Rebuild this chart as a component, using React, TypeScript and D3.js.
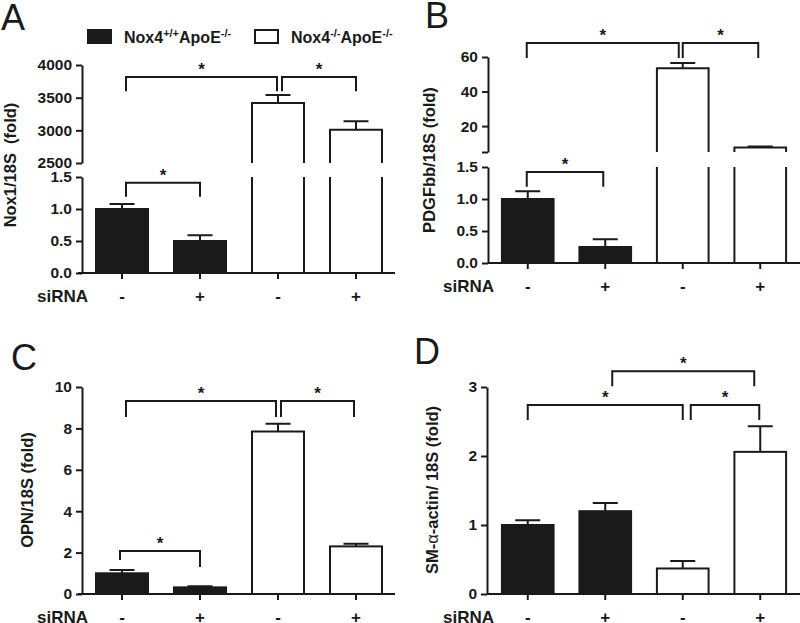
import { useEffect, useRef } from "react"
import * as d3 from "d3"

// four groups: Nox4+/+ApoE-/- (siRNA -, +) and Nox4-/-ApoE-/- (siRNA -, +)
const siRNA = ["-", "+", "-", "+"]
const genotype = ["wt", "wt", "ko", "ko"]
const legendNames = [
  ["Nox4", "+/+", "ApoE", "-/-"],
  ["Nox4", "-/-", "ApoE", "-/-"],
]

const nox1Mean = [1.0, 0.5, 3420, 3010]
const nox1Sem = [0.08, 0.09, 120, 130]
const nox1TicksLow = [0, 0.5, 1.0, 1.5]
const nox1TicksHigh = [2500, 3000, 3500, 4000]

const pdgfMean = [1.0, 0.25, 53.5, 7.6]
const pdgfSem = [0.12, 0.12, 3.0, 0.6]
const pdgfTicksLow = [0, 0.5, 1.0, 1.5]
const pdgfTicksHigh = [20, 40, 60]

const opnMean = [1.0, 0.32, 7.85, 2.3]
const opnSem = [0.16, 0.06, 0.37, 0.13]
const opnTicks = [0, 2, 4, 6, 8, 10]

const smaMean = [1.0, 1.2, 0.37, 2.06]
const smaSem = [0.07, 0.12, 0.11, 0.37]
const smaTicks = [0, 1, 2, 3]

const FONT = "'Liberation Sans', Arial, Helvetica, sans-serif"
const INK = "#1a1a1a"

type Segment = {
  domain: [number, number]
  range: [number, number]
  ticks: number[]
  format: string
  breakTick?: boolean
}

type Bracket = {
  from: number
  to: number
  seg?: "low" | "high"
  top: number
  legFrom: number
  legTo: number
  dFrom: number
  dTo: number
}

type Panel = {
  letter: string
  letterX: number
  letterY: number
  label: { text: string; alpha?: boolean }[]
  labelX: number
  labelY: number
  mean: number[]
  sem: number[]
  low: Segment
  high?: Segment
  axisX: number
  xRange: [number, number]
  xLineFrom: number
  xLineTo: number
  siRNAX: number
  brackets: Bracket[]
}

const panels: Panel[] = [
  {
    letter: "A", letterX: 1, letterY: 30,
    label: [{ text: "Nox1/18S\u00a0 (fold)" }], labelX: 16, labelY: 165,
    mean: nox1Mean, sem: nox1Sem,
    low: { domain: [0, 1.5], range: [273, 177], ticks: nox1TicksLow, format: ".1f" },
    high: { domain: [2500, 4000], range: [163, 65], ticks: nox1TicksHigh, format: "d" },
    axisX: 82, xRange: [83, 395], xLineFrom: 78, xLineTo: 395, siRNAX: 37,
    brackets: [
      { from: 0, to: 2, seg: "high", top: 3815, legFrom: 3600, legTo: 3600, dFrom: 4, dTo: -1 },
      { from: 2, to: 3, seg: "high", top: 3815, legFrom: 3600, legTo: 3600, dFrom: 4, dTo: 0 },
      { from: 0, to: 1, seg: "low", top: 1.41, legFrom: 1.19, legTo: 1.19, dFrom: 4, dTo: 0 },
    ],
  },
  {
    letter: "B", letterX: 425, letterY: 28,
    label: [{ text: "PDGFbb/18S (fold)" }], labelX: 435, labelY: 160,
    mean: pdgfMean, sem: pdgfSem,
    low: { domain: [0, 1.5], range: [263, 167], ticks: pdgfTicksLow, format: ".1f" },
    high: { domain: [5, 60], range: [152, 57], ticks: pdgfTicksHigh, format: "d", breakTick: true },
    axisX: 488, xRange: [489, 799], xLineFrom: 488, xLineTo: 800, siRNAX: 443,
    brackets: [
      { from: 0, to: 2, seg: "high", top: 68.1, legFrom: 59.4, legTo: 59.4, dFrom: -1, dTo: -4 },
      { from: 2, to: 3, seg: "high", top: 68.1, legFrom: 59.4, legTo: 59.4, dFrom: 0, dTo: -2 },
      { from: 0, to: 1, seg: "low", top: 1.42, legFrom: 1.19, legTo: 1.19, dFrom: -1, dTo: -2 },
    ],
  },
  {
    letter: "C", letterX: 11, letterY: 370,
    label: [{ text: "OPN/18S (fold)" }], labelX: 33, labelY: 490,
    mean: opnMean, sem: opnSem,
    low: { domain: [0, 10], range: [594, 387], ticks: opnTicks, format: "d" },
    axisX: 82, xRange: [83, 395], xLineFrom: 78, xLineTo: 395, siRNAX: 37,
    brackets: [
      { from: 0, to: 2, top: 9.32, legFrom: 8.55, legTo: 8.55, dFrom: 4, dTo: -2 },
      { from: 2, to: 3, top: 9.32, legFrom: 8.55, legTo: 8.55, dFrom: 3, dTo: -2 },
      { from: 0, to: 1, top: 2.08, legFrom: 1.64, legTo: 1.3, dFrom: -2, dTo: 0 },
    ],
  },
  {
    letter: "D", letterX: 414, letterY: 364,
    label: [{ text: "SM-" }, { text: "\u03b1", alpha: true }, { text: "-actin/ 18S (fold)" }],
    labelX: 438, labelY: 490,
    mean: smaMean, sem: smaSem,
    low: { domain: [0, 3], range: [594, 387], ticks: smaTicks, format: "d" },
    axisX: 487, xRange: [489, 799], xLineFrom: 487, xLineTo: 800, siRNAX: 443,
    brackets: [
      { from: 1, to: 3, top: 3.23, legFrom: 3.01, legTo: 3.01, dFrom: 7, dTo: -6 },
      { from: 0, to: 2, top: 2.74, legFrom: 2.52, legTo: 2.52, dFrom: 0, dTo: 0 },
      { from: 2, to: 3, top: 2.74, legFrom: 2.52, legTo: 2.52, dFrom: 8, dTo: -1 },
    ],
  },
]

function styleAxis(g: d3.Selection<SVGGElement, unknown, null, undefined>, size: number) {
  g.attr("font-family", FONT).attr("font-size", size).attr("font-weight", "bold")
  g.select(".domain").attr("stroke", INK).attr("stroke-width", 2)
  g.selectAll(".tick line").attr("stroke", INK).attr("stroke-width", 2)
  g.selectAll(".tick text").attr("fill", INK)
}

function drawPanel(root: d3.Selection<SVGSVGElement, unknown, null, undefined>, p: Panel) {
  const g = root.append("g")

  const x = d3
    .scaleBand<number>()
    .domain(d3.range(4))
    .range(p.xRange)
    .paddingInner(1 / 3)
    .paddingOuter(1 / 6)
  const cx = (i: number) => (x(i) ?? 0) + x.bandwidth() / 2

  const yLow = d3.scaleLinear().domain(p.low.domain).range(p.low.range)
  const yHigh = p.high ? d3.scaleLinear().domain(p.high.domain).range(p.high.range) : null
  const lowMax = p.low.domain[1]
  const yOf = (v: number) => (yHigh && v > lowMax ? yHigh(v) : yLow(v))

  // bars
  p.mean.forEach((v, i) => {
    const x0 = x(i) ?? 0
    const x1 = x0 + x.bandwidth()
    const fill = genotype[i] === "wt" ? INK : "#ffffff"
    if (!yHigh || v <= lowMax) {
      g.append("rect")
        .attr("x", x0)
        .attr("y", yLow(v))
        .attr("width", x.bandwidth())
        .attr("height", yLow(0) - yLow(v))
        .attr("fill", fill)
        .attr("stroke", INK)
        .attr("stroke-width", 2)
    } else {
      // broken bar: open top in the lower segment, open bottom in the upper one
      const yb = yLow(0)
      const yt = yLow(lowMax)
      g.append("path")
        .attr("d", `M${x0},${yt}V${yb}H${x1}V${yt}`)
        .attr("fill", fill)
        .attr("stroke", INK)
        .attr("stroke-width", 2)
      const hb = yHigh(p.high!.domain[0])
      g.append("path")
        .attr("d", `M${x0},${hb}V${yHigh(v)}H${x1}V${hb}`)
        .attr("fill", fill)
        .attr("stroke", INK)
        .attr("stroke-width", 2)
    }
  })

  // error bars (upper only)
  p.mean.forEach((v, i) => {
    const top = yOf(v)
    const end = yOf(v + p.sem[i])
    g.append("path")
      .attr("d", `M${cx(i)},${top}V${end}M${cx(i) - 12.5},${end}H${cx(i) + 12.5}`)
      .attr("fill", "none")
      .attr("stroke", INK)
      .attr("stroke-width", 2)
  })

  // y axes
  const fmtLow = d3.format(p.low.format)
  g.append("g")
    .attr("transform", `translate(${p.axisX},0)`)
    .call(
      d3.axisLeft(yLow)
        .tickValues(p.low.ticks)
        .tickFormat((d) => fmtLow(d as number))
        .tickSize(6)
        .tickSizeOuter(0)
        .tickPadding(4)
    )
    .call((a) => styleAxis(a, 15.5))

  if (yHigh && p.high) {
    const hi = p.high
    const fmtHigh = d3.format(hi.format)
    const values = hi.breakTick ? [hi.domain[0], ...hi.ticks] : hi.ticks
    g.append("g")
      .attr("transform", `translate(${p.axisX},0)`)
      .call(
        d3.axisLeft(yHigh)
          .tickValues(values)
          .tickFormat((d) => (hi.ticks.includes(d as number) ? fmtHigh(d as number) : ""))
          .tickSize(6)
          .tickSizeOuter(0)
          .tickPadding(4)
      )
      .call((a) => styleAxis(a, 15.5))
  }

  // x axis
  const xAxisY = yLow(0)
  g.append("line")
    .attr("x1", p.xLineFrom)
    .attr("x2", p.xLineTo)
    .attr("y1", xAxisY)
    .attr("y2", xAxisY)
    .attr("stroke", INK)
    .attr("stroke-width", 2)

  g.append("g")
    .attr("transform", `translate(0,${xAxisY})`)
    .call(
      d3.axisBottom(x)
        .tickFormat((i) => siRNA[i as number])
        .tickSize(6)
        .tickSizeOuter(0)
        .tickPadding(11)
    )
    .call((a) => a.select(".domain").remove())
    .call((a) => styleAxis(a, 17))

  g.append("text")
    .attr("x", p.siRNAX)
    .attr("y", xAxisY + 29)
    .attr("font-family", FONT)
    .attr("font-size", 17)
    .attr("font-weight", "bold")
    .attr("fill", INK)
    .text("siRNA")

  // significance brackets
  p.brackets.forEach((b) => {
    const sy = (v: number) => (b.seg === "high" && yHigh ? yHigh(v) : yLow(v))
    const xa = cx(b.from) + b.dFrom
    const xb = cx(b.to) + b.dTo
    g.append("path")
      .attr("d", `M${xa},${sy(b.legFrom)}V${sy(b.top)}H${xb}V${sy(b.legTo)}`)
      .attr("fill", "none")
      .attr("stroke", INK)
      .attr("stroke-width", 2)
    g.append("text")
      .attr("x", (xa + xb) / 2)
      .attr("y", sy(b.top) - 2)
      .attr("text-anchor", "middle")
      .attr("font-family", FONT)
      .attr("font-size", 17)
      .attr("font-weight", "bold")
      .attr("fill", INK)
      .text("*")
  })

  // panel letter
  g.append("text")
    .attr("x", p.letterX)
    .attr("y", p.letterY)
    .attr("font-family", FONT)
    .attr("font-size", 36)
    .attr("fill", INK)
    .text(p.letter)

  // y label
  const lbl = g.append("text")
    .attr("transform", `translate(${p.labelX},${p.labelY}) rotate(-90)`)
    .attr("text-anchor", "middle")
    .attr("font-family", FONT)
    .attr("font-size", 16.5)
    .attr("font-weight", "bold")
    .attr("fill", INK)
  p.label.forEach((part) => {
    const t = lbl.append("tspan").text(part.text)
    if (part.alpha) t.attr("font-weight", "normal")
  })
}

export default function App() {
  const svgRef = useRef<SVGSVGElement | null>(null)

  useEffect(() => {
    if (!svgRef.current) {
      return
    }
    const svg = d3.select(svgRef.current)
    svg.selectAll("*").remove()

    svg.append("rect").attr("width", 800).attr("height", 623).attr("fill", "#ffffff")

    panels.forEach((p) => drawPanel(svg, p))

    // legend
    const legend = svg.append("g")
    const swatchX = [88, 255]
    const textX = [124, 291]
    legendNames.forEach((parts, i) => {
      legend.append("rect")
        .attr("x", swatchX[i])
        .attr("y", 30)
        .attr("width", 23)
        .attr("height", 13)
        .attr("fill", genotype[i * 2] === "wt" ? INK : "#ffffff")
        .attr("stroke", INK)
        .attr("stroke-width", 2)
      const t = legend.append("text")
        .attr("x", textX[i])
        .attr("y", 43)
        .attr("font-family", FONT)
        .attr("font-size", 16)
        .attr("font-weight", "bold")
        .attr("fill", INK)
      t.append("tspan").text(parts[0])
      t.append("tspan").attr("font-size", 11).attr("dy", -6).text(parts[1])
      t.append("tspan").attr("dy", 6).text(parts[2])
      t.append("tspan").attr("font-size", 11).attr("dy", -6).text(parts[3])
    })
  }, [])

  return (
    <svg
      ref={svgRef}
      width={800}
      height={623}
      style={{ position: "absolute", left: 0, top: 0 }}
    />
  )
}
